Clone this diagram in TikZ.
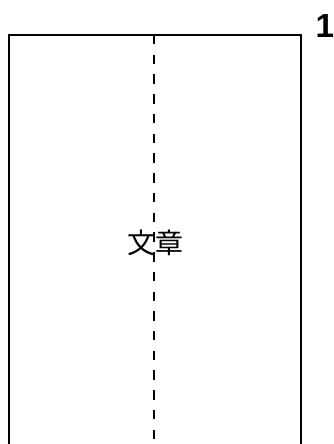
\documentclass[tikz,border=0pt]{standalone}
\usepackage{fontspec}
\setmainfont{Liberation Sans}
\newfontfamily\cjk{Noto Sans CJK JP}
\begin{document}
\begin{tikzpicture}[x=0.75pt,y=-0.75pt]
      \useasboundingbox (0,0) rectangle (334,444);

      \draw[line width=1.6pt] (9,444)--(9,35)--(301,35)--(301,444);
      \draw[line width=1.6pt,dash pattern=on 7.1pt off 7.7pt] (154,35)--(154,444);

      \node[inner sep=0pt] (title) at (155.5,243) {\cjk\fontsize{21pt}{25pt}\selectfont 文章};
      \node[inner sep=0pt,anchor=base] (num) at (325,37) {\fontsize{25pt}{30pt}\selectfont\bfseries 1};
    \end{tikzpicture}
\end{document}
